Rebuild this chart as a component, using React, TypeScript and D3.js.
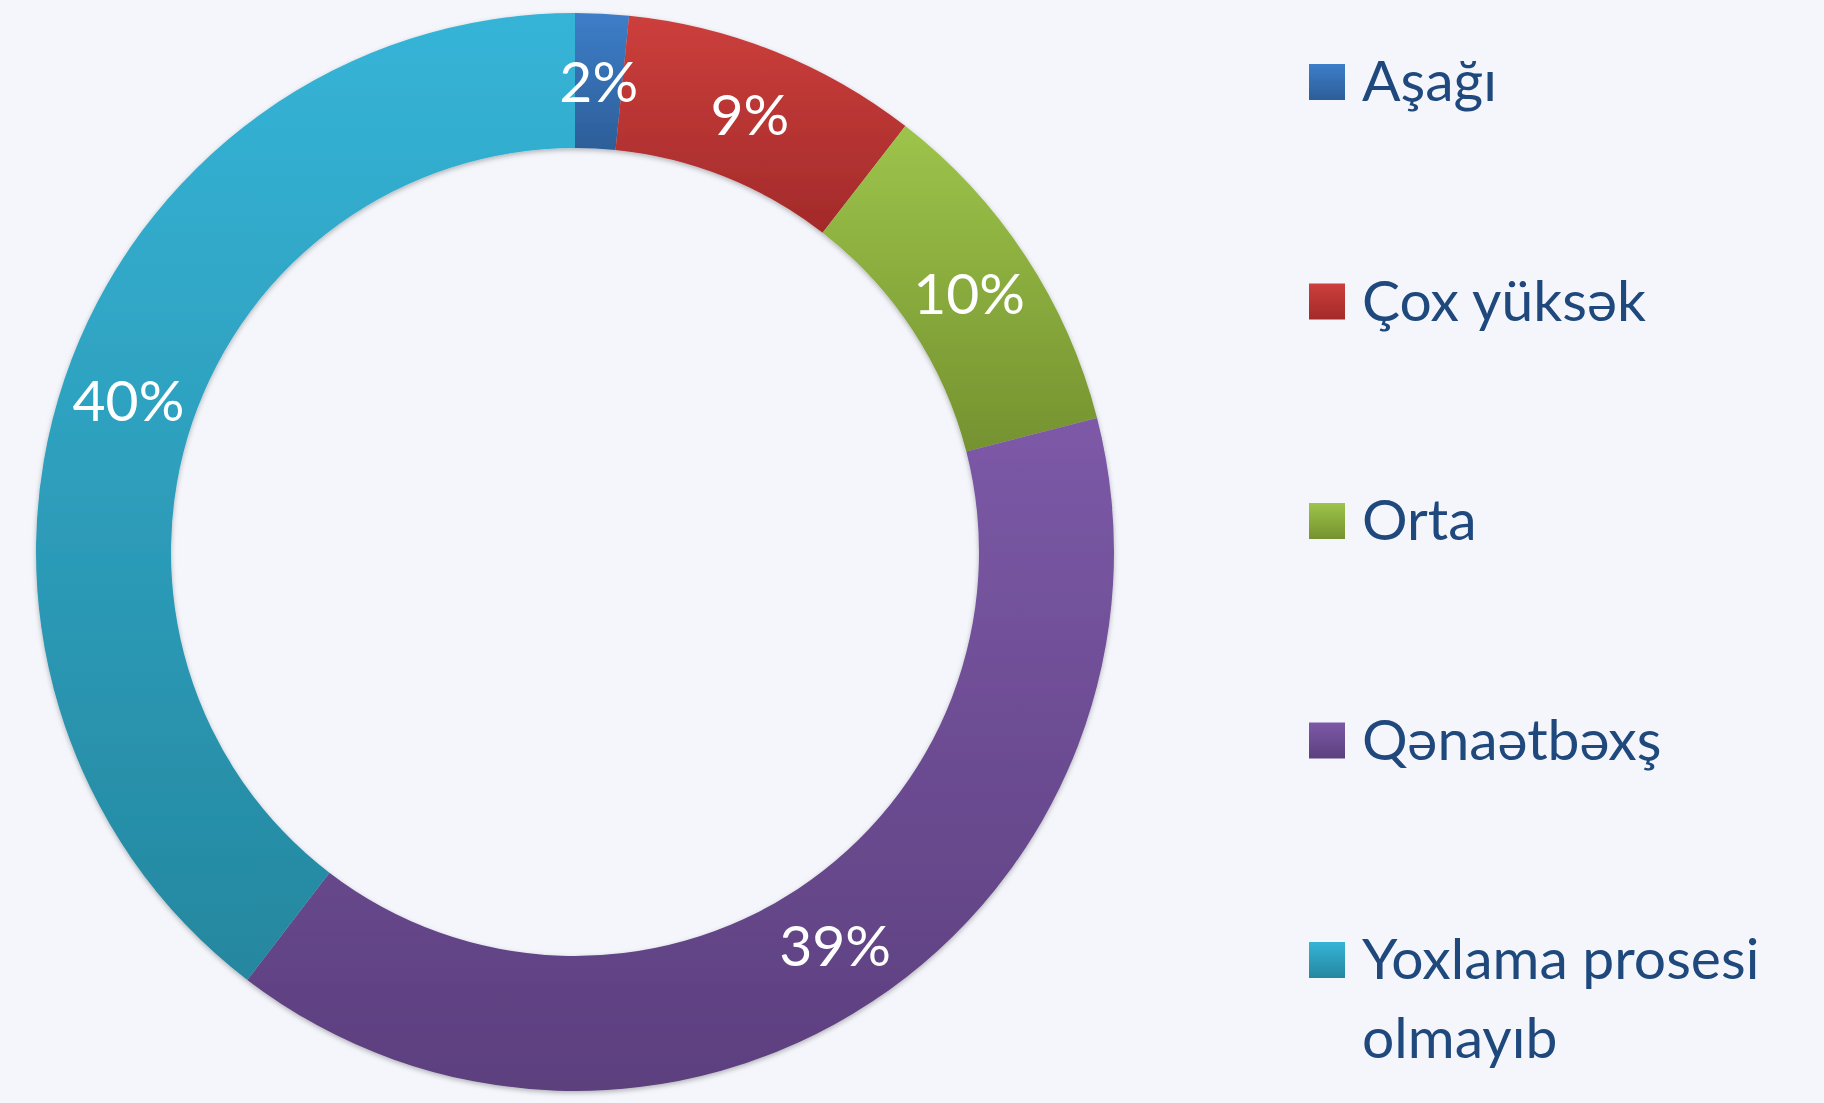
import React from "react";
import * as d3 from "d3";

const categories = ["Aşağı", "Çox yüksək", "Orta", "Qənaətbəxş", "Yoxlama prosesi olmayıb"];
const values = [1.6, 8.9, 10.5, 39.4, 39.6];
const percentLabels = ["2%", "9%", "10%", "39%", "40%"];
const legendLines = [["Aşağı"], ["Çox yüksək"], ["Orta"], ["Qənaətbəxş"], ["Yoxlama prosesi", "olmayıb"]];
const gradTop = ["#3d7ec9", "#cc3f3c", "#9dc44b", "#7c59a7", "#35b4d7"];
const gradBottom = ["#2c5e98", "#a32a2a", "#75922f", "#5c3f7e", "#25879f"];

const W = 1824;
const H = 1103;
const cx = 575;
const cy = 552;
const R = 539;
const r = 404;
const FONT = "Lato, 'Open Sans', sans-serif";

export default function App() {
  const pie = d3.pie<number>().sort(null).value((d) => d).startAngle(0).endAngle(2 * Math.PI);
  const arcs = pie(values);
  const arc = d3.arc<d3.PieArcDatum<number>>().innerRadius(r).outerRadius(R);
  const labelArc = d3.arc<d3.PieArcDatum<number>>().innerRadius((R + r) / 2).outerRadius((R + r) / 2);

  const legendX = 1309;
  const legendY0 = 64;
  const legendStep = 219.5;
  const sq = 36;

  return (
    <svg width={W} height={H} style={{ position: "absolute", left: 0, top: 0, display: "block" }}>
      <defs>
        {categories.map((c, i) => (
          <linearGradient key={c} id={`g${i}`} x1="0" y1="0" x2="0" y2="1">
            <stop offset="0" stopColor={gradTop[i]} />
            <stop offset="1" stopColor={gradBottom[i]} />
          </linearGradient>
        ))}
        <filter id="shadow" x="-10%" y="-10%" width="120%" height="120%">
          <feDropShadow dx="0" dy="2" stdDeviation="2.5" floodColor="#000" floodOpacity="0.28" />
        </filter>
      </defs>
      <rect x={0} y={0} width={W} height={H} fill="#f4f6fb" />
      <g transform={`translate(${cx},${cy})`}>
        <g filter="url(#shadow)">
          {arcs.map((a, i) => (
            <path key={categories[i]} d={arc(a) || ""} fill={`url(#g${i})`} />
          ))}
        </g>
        {arcs.map((a, i) => {
          const [x, y] = labelArc.centroid(a);
          return (
            <text
              key={"l" + i}
              x={x}
              y={y}
              dy="0.36em"
              textAnchor="middle"
              fill="#ffffff"
              fontFamily={FONT}
              fontSize={57}
            >
              {percentLabels[i]}
            </text>
          );
        })}
      </g>
      {categories.map((c, i) => {
        const top = legendY0 + i * legendStep;
        return (
          <g key={"leg" + i}>
            <rect x={legendX} y={top} width={sq} height={sq} fill={`url(#g${i})`} />
            {legendLines[i].map((line, j) => (
              <text
                key={j}
                x={1362}
                y={top + 37 + j * 79}
                fill="#1f497d"
                fontFamily={FONT}
                fontSize={57}
              >
                {line}
              </text>
            ))}
          </g>
        );
      })}
    </svg>
  );
}
